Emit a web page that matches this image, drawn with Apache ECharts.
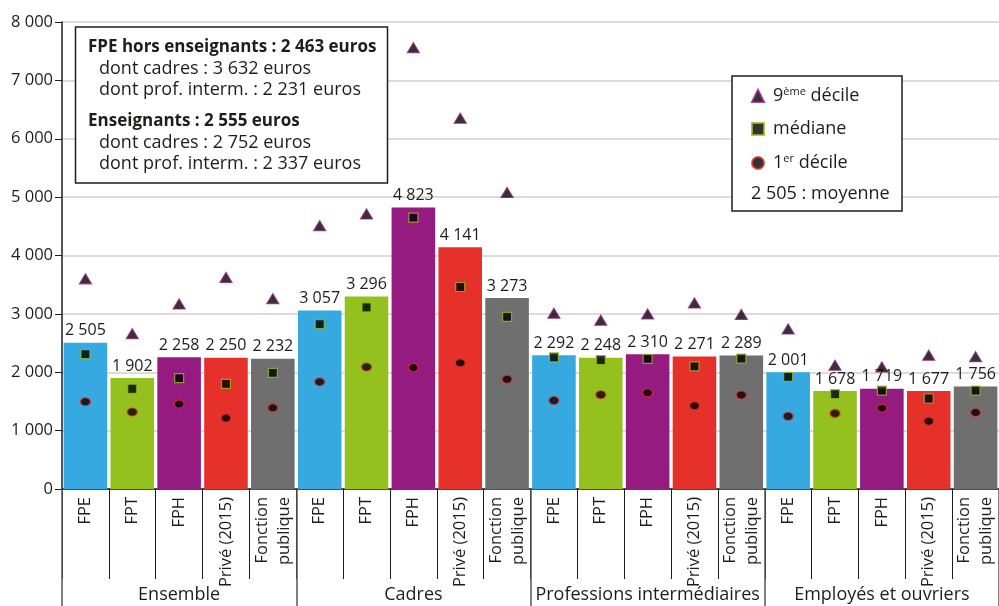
<!DOCTYPE html>
<html>
<head>
<meta charset="utf-8">
<script src="https://cdn.jsdelivr.net/npm/echarts@6/dist/echarts.min.js"></script>
<style>html,body{margin:0;padding:0;background:#fff;}#c{width:999px;height:606px;}</style>
</head>
<body>
<div id="c"></div>
<script>
const groups = ['Ensemble', 'Cadres', 'Professions intermédiaires', 'Employés et ouvriers'];
const sectors = ['FPE', 'FPT', 'FPH', 'Privé (2015)', 'Fonction\npublique'];
const categories = [
  'FPE', 'FPT', 'FPH', 'Privé (2015)', 'Fonction\npublique',
  'FPE', 'FPT', 'FPH', 'Privé (2015)', 'Fonction\npublique',
  'FPE', 'FPT', 'FPH', 'Privé (2015)', 'Fonction\npublique',
  'FPE', 'FPT', 'FPH', 'Privé (2015)', 'Fonction\npublique'
];
const moyenne = [2505, 1902, 2258, 2250, 2232, 3057, 3296, 4823, 4141, 3273, 2292, 2248, 2310, 2271, 2289, 2001, 1678, 1719, 1677, 1756];
const decile9 = [3600, 2660, 3170, 3625, 3260, 4510, 4710, 7560, 6350, 5080, 3010, 2890, 3000, 3185, 2990, 2740, 2120, 2090, 2290, 2265];
const mediane = [2310, 1717, 1900, 1800, 1990, 2825, 3110, 4650, 3460, 2950, 2255, 2210, 2230, 2100, 2235, 1920, 1625, 1685, 1550, 1685];
const decile1 = [1495, 1320, 1455, 1215, 1390, 1835, 2090, 2080, 2160, 1880, 1515, 1615, 1650, 1425, 1610, 1245, 1295, 1385, 1160, 1310];
const yTicks = [0, 1000, 2000, 3000, 4000, 5000, 6000, 7000, 8000];
const sectorColors = ['#36A9E1', '#95C11F', '#951B81', '#E53129', '#706F6F'];
const boxLines = [
  ['FPE hors enseignants : 2 463 euros', true],
  ['dont cadres : 3 632 euros', false],
  ['dont prof. interm. : 2 231 euros', false],
  ['Enseignants : 2 555 euros', true],
  ['dont cadres : 2 752 euros', false],
  ['dont prof. interm. : 2 337 euros', false]
];

const FONT = 'Open Sans';
const TXT = '#1d1d1b';
const fmt = v => String(v).replace(/\B(?=(\d{3})+(?!\d))/g, ' ');

const chart = echarts.init(document.getElementById('c'), null, {renderer: 'canvas'});

const barData = moyenne.map((v, i) => ({value: v, itemStyle: {color: sectorColors[i % sectors.length]}}));

// left text box
const boxY = [47, 68.5, 90, 121, 142.5, 164];
const graphics = [
  {type: 'rect', shape: {x: 75.5, y: 27, width: 312, height: 156}, style: {fill: '#fff', stroke: TXT, lineWidth: 1.5}, z: 10},
  {type: 'rect', shape: {x: 732, y: 76, width: 170, height: 135}, style: {fill: '#fff', stroke: TXT, lineWidth: 1.5}, z: 10},
  {type: 'text', x: 751, y: 193.5, style: {text: fmt(moyenne[0]) + ' : moyenne', font: '18px "' + FONT + '"', fill: TXT, verticalAlign: 'middle'}, z: 11}
];
boxLines.forEach((l, i) => {
  graphics.push({type: 'text', x: l[1] ? 88 : 99, y: boxY[i], z: 11,
    style: {text: l[0], font: (l[1] ? 'bold 17px' : '18px') + ' "' + FONT + '"', fill: TXT, verticalAlign: 'middle'}});
});

const legendNames = ['9ème décile', 'médiane', '1er décile'];

chart.setOption({
  animation: false,
  backgroundColor: '#fff',
  textStyle: {fontFamily: FONT},
  grid: {left: 62, right: -5, top: 22, bottom: 117, containLabel: false},
  legend: {
    data: legendNames,
    orient: 'vertical',
    left: 751, top: 86, padding: 0,
    itemWidth: 12, itemHeight: 12, itemGap: 15,
    z: 12,
    textStyle: {fontSize: 18, color: TXT, fontFamily: FONT, padding: [0, 0, 0, 4],
      rich: {
        n: {fontSize: 18, fontFamily: FONT, color: TXT, lineHeight: 20},
        sup: {fontSize: 11, fontFamily: FONT, color: TXT, verticalAlign: 'top', lineHeight: 20, padding: [0, 0, 6, 0]}
      }},
    formatter: name => {
      if (name === legendNames[0]) return '{n|9}{sup|ème}{n| décile}';
      if (name === legendNames[2]) return '{n|1}{sup|er}{n| décile}';
      return '{n|' + name + '}';
    }
  },
  xAxis: [
    {
      type: 'category', data: categories, position: 'bottom',
      axisLine: {lineStyle: {color: TXT, width: 1.5}},
      axisTick: {show: true, interval: 0, length: 90, lineStyle: {color: TXT, width: 1}},
      axisLabel: {interval: 0, rotate: 90, margin: 8, fontSize: 16.5, color: TXT, lineHeight: 22, fontFamily: FONT}
    },
    {
      type: 'category', data: groups, position: 'bottom',
      axisLine: {show: false},
      axisTick: {show: true, interval: 0, length: 125, lineStyle: {color: '#555', width: 1.5}},
      axisLabel: {interval: 0, margin: 97, fontSize: 18, color: TXT, fontFamily: FONT}
    }
  ],
  yAxis: {
    type: 'value', min: 0, max: 8000, interval: 1000,
    axisLine: {show: true, lineStyle: {color: TXT, width: 1.5}},
    axisTick: {show: true, length: 7, lineStyle: {color: TXT}},
    axisLabel: {fontSize: 16.5, color: TXT, margin: 9, fontFamily: FONT, formatter: v => yTicks.indexOf(v) >= 0 ? fmt(v) : ''},
    splitLine: {show: true, lineStyle: {color: '#d0d0d0', width: 1.5}}
  },
  graphic: graphics,
  series: [
    {
      name: 'moyenne', type: 'bar', data: barData, barCategoryGap: '7%', z: 2,
      label: {show: true, position: 'top', distance: 4, fontSize: 16, color: TXT, fontFamily: FONT, formatter: p => fmt(p.value)}
    },
    {
      name: legendNames[0], type: 'scatter', data: decile9, symbol: 'triangle', symbolSize: [12, 10], z: 5,
      itemStyle: {color: '#000', borderColor: '#951B81', borderWidth: 1.2}
    },
    {
      name: legendNames[1], type: 'scatter', data: mediane, symbol: 'rect', symbolSize: 9, z: 5,
      itemStyle: {color: '#000', borderColor: '#95C11F', borderWidth: 1.2}
    },
    {
      name: legendNames[2], type: 'scatter', data: decile1, symbol: 'circle', symbolSize: [10, 8], z: 5,
      itemStyle: {color: '#000', borderColor: '#E53129', borderWidth: 1.2}
    }
  ]
});
</script>
</body>
</html>
